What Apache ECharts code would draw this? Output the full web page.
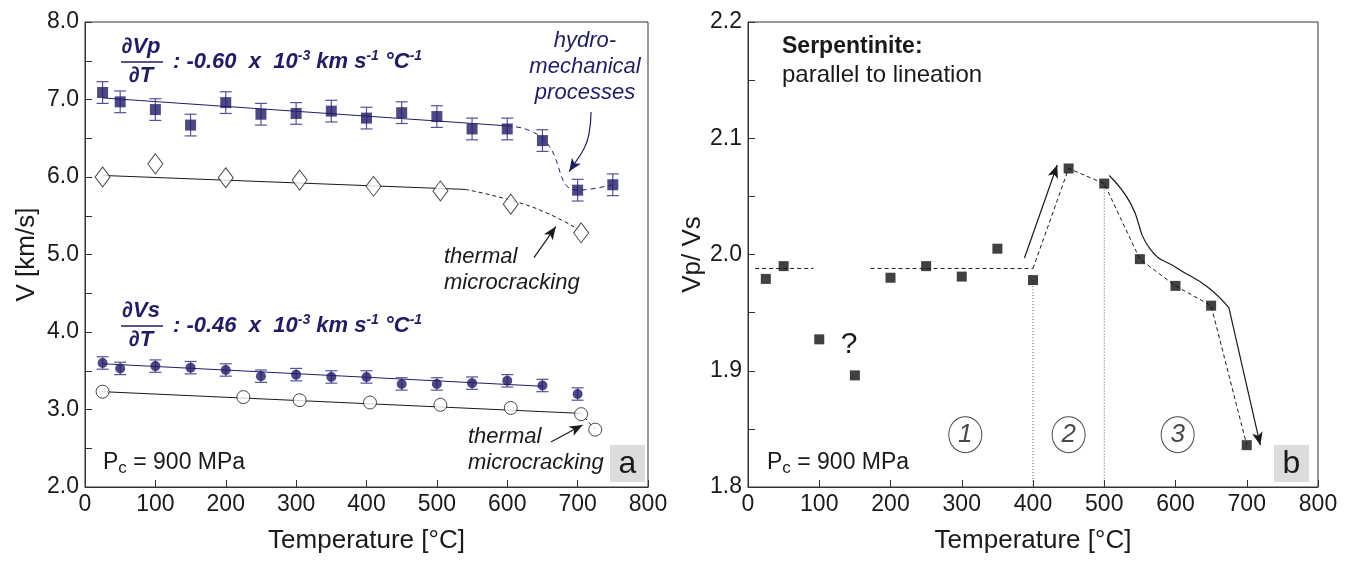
<!DOCTYPE html>
<html>
<head>
<meta charset="utf-8">
<script src="https://cdn.jsdelivr.net/npm/echarts@6/dist/echarts.min.js"></script>
<style>
  html, body { margin: 0; padding: 0; background: #fff; }
  #chart { width: 1347px; height: 561px; }
</style>
</head>
<body>
<div id="chart"></div>
<script>
// panel a: velocities vs temperature
const tempVp = [25, 50, 100, 150, 200, 250, 300, 350, 400, 450, 500, 550, 600, 650, 700, 750];
const vpFilled = [7.09, 6.97, 6.87, 6.67, 6.96, 6.81, 6.82, 6.85, 6.76, 6.83, 6.78, 6.62, 6.62, 6.47, 5.83, 5.90];
const vpErr = 0.14;
const tempVpOpen = [25, 100, 200, 305, 410, 505, 605, 705];
const vpOpen = [6.00, 6.17, 5.99, 5.96, 5.88, 5.82, 5.65, 5.28];
const tempVs = [25, 50, 100, 150, 200, 250, 300, 350, 400, 450, 500, 550, 600, 650, 700];
const vsFilled = [3.60, 3.53, 3.56, 3.54, 3.51, 3.43, 3.45, 3.42, 3.42, 3.33, 3.33, 3.34, 3.37, 3.31, 3.20];
const vsErr = 0.08;
const tempVsOpen = [25, 225, 305, 405, 505, 605, 705, 725];
const vsOpen = [3.23, 3.16, 3.12, 3.09, 3.06, 3.02, 2.94, 2.74];

// fitted trends and guide curves (temperature, value)
const vpFit = [[25, 7.02], [600, 6.66]];
const vpTail = [[600, 6.66], [650, 6.50], [700, 5.83], [750, 5.90]];
const vpOpenFit = [[25, 6.02], [540, 5.84]];
const vpOpenTail = [[540, 5.84], [605, 5.70], [660, 5.52], [705, 5.30]];
const vsFit = [[25, 3.59], [650, 3.30]];
const vsOpenFit = [[25, 3.23], [705, 2.95]];
const vsOpenTail = [[705, 2.95], [725, 2.74]];
const hydroArrow = [[719, 6.84], [716, 6.55], [705, 6.30], [688, 6.07]];
const thermalArrow1 = [[638, 4.96], [669, 5.36]];
const thermalArrow2 = [[662, 2.58], [707, 2.80]];

// panel b: Vp/Vs ratio
const tempRatio = [25, 50, 100, 150, 200, 250, 300, 350, 400, 450, 500, 550, 600, 650, 700];
const vpvs = [1.979, 1.990, 1.927, 1.896, 1.980, 1.990, 1.981, 2.005, 1.978, 2.074, 2.061, 1.996, 1.973, 1.956, 1.836];
const plateau1 = [[10, 1.988], [92, 1.988]];
const plateau2 = [[172, 1.988], [400, 1.988]];
const ratioPath = [[400, 1.988], [450, 2.074], [500, 2.061], [550, 1.996], [600, 1.973], [650, 1.956], [700, 1.836]];
const divider400 = [[400, 1.978], [400, 1.8]];
const divider500 = [[500, 2.061], [500, 1.8]];
const stage2Arrow = [[388, 1.997], [434, 2.077]];
const stage3Curve = [[507, 2.068], [537, 2.044], [564, 2.005], [603, 1.988], [645, 1.972], [675, 1.954], [719, 1.836]];
const stageMarks = [[305, 1.845, '1'], [450, 1.845, '2'], [603, 1.845, '3']];

const NAVY = '#211c68';
const NAVY_LIGHT = '#55529a';
const INK = '#1a1a1a';
const FONT = '"Liberation Sans Narrow", "Liberation Sans", Arial, sans-serif';
const FONT_W = '"Liberation Sans", Arial, sans-serif';

const chart = echarts.init(document.getElementById('chart'));

const zip = (xs, ys) => xs.map((x, i) => [x, ys[i]]);

const lineSeries = (idx, data, color, type, smooth) => ({
  type: 'line', xAxisIndex: idx, yAxisIndex: idx, data: data,
  symbol: 'none', smooth: smooth || false, silent: true, z: 2,
  lineStyle: { color: color, width: 1, type: type || 'solid' }
});

// curve whose last segment carries an arrowhead
const arrowSeries = (idx, pts, color) => ({
  type: 'line', xAxisIndex: idx, yAxisIndex: idx, data: pts.slice(0, -1),
  symbol: 'none', smooth: true, silent: true, z: 3,
  lineStyle: { color: color, width: 1.2 },
  markLine: {
    silent: true, symbol: ['none', 'arrow'], symbolSize: [8, 13],
    label: { show: false },
    lineStyle: { color: color, width: 1.2, type: 'solid' },
    data: [[{ coord: pts[pts.length - 2] }, { coord: pts[pts.length - 1] }]]
  }
});

const errorBars = (xs, ys, err) => ({
  type: 'custom', xAxisIndex: 0, yAxisIndex: 0, silent: true, z: 3,
  data: xs.map((x, i) => [x, ys[i], err]),
  renderItem: (params, api) => {
    const x = api.value(0), y = api.value(1), e = api.value(2);
    const top = api.coord([x, y + e]);
    const bot = api.coord([x, y - e]);
    const w = 6;
    const st = { stroke: NAVY_LIGHT, lineWidth: 1.2 };
    return {
      type: 'group', children: [
        { type: 'line', shape: { x1: top[0], y1: top[1], x2: bot[0], y2: bot[1] }, style: st },
        { type: 'line', shape: { x1: top[0] - w, y1: top[1], x2: top[0] + w, y2: top[1] }, style: st },
        { type: 'line', shape: { x1: bot[0] - w, y1: bot[1], x2: bot[0] + w, y2: bot[1] }, style: st }
      ]
    };
  }
});

const xAxisBase = (idx) => ({
  type: 'value', gridIndex: idx, min: 0, max: 800, interval: 100,
  name: 'Temperature [°C]', nameLocation: 'middle', nameGap: 41,
  nameTextStyle: { fontFamily: FONT, fontSize: 26, color: INK },
  axisLine: { lineStyle: { color: '#333', width: 1 } },
  axisTick: { inside: true, length: 7, lineStyle: { color: '#333' } },
  axisLabel: { fontFamily: FONT, fontSize: 23, color: INK, margin: 6 },
  splitLine: { show: false }
});

const yLabel = (step) => (v) => {
  const t = v / step;
  return Math.abs(t - Math.round(t)) < 1e-6 ? v.toFixed(1) : '';
};

const supText = () => ({
  a: { fontFamily: FONT_W, fontSize: 22, fontWeight: 'bold', fontStyle: 'italic', fill: NAVY, lineHeight: 26 },
  s: { fontFamily: FONT_W, fontSize: 14, fontWeight: 'bold', fontStyle: 'italic', fill: NAVY, lineHeight: 14, verticalAlign: 'top' }
});

const formula = (top, numer, rest) => [
  { type: 'text', x: 141, y: top, style: { text: numer, font: 'italic bold 22px ' + FONT_W, fill: NAVY, align: 'center', verticalAlign: 'middle' } },
  { type: 'line', shape: { x1: 121, y1: top + 15, x2: 163, y2: top + 15 }, style: { stroke: NAVY, lineWidth: 1.5 } },
  { type: 'text', x: 141, y: top + 29, style: { text: '∂T', font: 'italic bold 22px ' + FONT_W, fill: NAVY, align: 'center', verticalAlign: 'middle' } },
  { type: 'text', x: 173, y: top + 15, style: { text: rest, rich: supText(), fill: NAVY, align: 'left', verticalAlign: 'middle' } }
];

const pressure = (x, y) => ({
  type: 'text', x: x, y: y,
  style: {
    text: '{n|P}{c|c}{n| = 900 MPa}', align: 'left', verticalAlign: 'middle',
    rich: {
      n: { fontFamily: FONT, fontSize: 23, fill: INK, lineHeight: 28 },
      c: { fontFamily: FONT, fontSize: 17, fill: INK, lineHeight: 8, verticalAlign: 'bottom' }
    }
  }
});

const panelTag = (x, y, t) => ({
  type: 'group', children: [
    { type: 'rect', shape: { x: x, y: y, width: 35, height: 37 }, style: { fill: '#dcdcdc' } },
    { type: 'text', x: x + 17.5, y: y + 19, style: { text: t, font: '32px ' + FONT, fill: INK, align: 'center', verticalAlign: 'middle' } }
  ]
});

const option = {
  animation: false,
  backgroundColor: '#fff',
  grid: [
    { left: 85, right: 699, top: 22, bottom: 74, show: true, borderColor: '#333', borderWidth: 1 },
    { left: 748, right: 29, top: 22, bottom: 74, show: true, borderColor: '#333', borderWidth: 1 }
  ],
  xAxis: [xAxisBase(0), xAxisBase(1)],
  yAxis: [
    {
      type: 'value', gridIndex: 0, min: 2, max: 8, interval: 0.5,
      name: 'V [km/s]', nameLocation: 'middle', nameGap: 45,
      nameTextStyle: { fontFamily: FONT, fontSize: 26, color: INK },
      axisLine: { lineStyle: { color: '#333' } },
      axisTick: { inside: true, length: 7, lineStyle: { color: '#333' } },
      axisLabel: { fontFamily: FONT, fontSize: 23, color: INK, margin: 6, formatter: yLabel(1) },
      splitLine: { show: false }
    },
    {
      type: 'value', gridIndex: 1, min: 1.8, max: 2.2, interval: 0.05,
      name: 'Vp/ Vs', nameLocation: 'middle', nameGap: 40,
      nameTextStyle: { fontFamily: FONT, fontSize: 26, color: INK },
      axisLine: { lineStyle: { color: '#333' } },
      axisTick: { inside: true, length: 7, lineStyle: { color: '#333' } },
      axisLabel: { fontFamily: FONT, fontSize: 23, color: INK, margin: 6, formatter: yLabel(0.1) },
      splitLine: { show: false }
    }
  ],
  series: [
    // panel a trend lines
    lineSeries(0, vpFit, NAVY),
    lineSeries(0, vpTail, NAVY, [5, 4], true),
    lineSeries(0, vpOpenFit, INK),
    lineSeries(0, vpOpenTail, INK, [4, 3], true),
    lineSeries(0, vsFit, NAVY),
    lineSeries(0, vsOpenFit, INK),
    lineSeries(0, vsOpenTail, INK, [3, 3]),
    arrowSeries(0, hydroArrow, NAVY),
    arrowSeries(0, thermalArrow1, INK),
    arrowSeries(0, thermalArrow2, INK),
    errorBars(tempVp, vpFilled, vpErr),
    errorBars(tempVs, vsFilled, vsErr),
    {
      type: 'scatter', xAxisIndex: 0, yAxisIndex: 0, data: zip(tempVp, vpFilled),
      symbol: 'rect', symbolSize: 11, z: 4, itemStyle: { color: NAVY }
    },
    {
      type: 'scatter', xAxisIndex: 0, yAxisIndex: 0, data: zip(tempVpOpen, vpOpen),
      symbol: 'diamond', symbolSize: [15, 20], z: 4,
      itemStyle: { color: '#fff', borderColor: INK, borderWidth: 1 }
    },
    {
      type: 'scatter', xAxisIndex: 0, yAxisIndex: 0, data: zip(tempVs, vsFilled),
      symbol: 'circle', symbolSize: 10, z: 4, itemStyle: { color: NAVY }
    },
    {
      type: 'scatter', xAxisIndex: 0, yAxisIndex: 0, data: zip(tempVsOpen, vsOpen),
      symbol: 'circle', symbolSize: 13, z: 4,
      itemStyle: { color: '#fff', borderColor: INK, borderWidth: 1 }
    },
    // panel b
    lineSeries(1, plateau1, INK, [4, 3]),
    lineSeries(1, plateau2, INK, [4, 3]),
    lineSeries(1, ratioPath, INK, [4, 3]),
    lineSeries(1, divider400, '#555', [1, 2]),
    lineSeries(1, divider500, '#555', [1, 2]),
    arrowSeries(1, stage2Arrow, INK),
    arrowSeries(1, stage3Curve, INK),
    {
      type: 'scatter', xAxisIndex: 1, yAxisIndex: 1, data: zip(tempRatio, vpvs),
      symbol: 'rect', symbolSize: 10, z: 4, itemStyle: { color: '#111' }
    },
    {
      type: 'scatter', xAxisIndex: 1, yAxisIndex: 1, data: stageMarks,
      symbol: 'circle', symbolSize: [33, 36], z: 4,
      itemStyle: { color: '#fff', borderColor: INK, borderWidth: 1 },
      label: {
        show: true, position: 'inside', formatter: (p) => p.value[2],
        fontFamily: FONT_W, fontStyle: 'italic', fontSize: 26, color: INK
      }
    }
  ],
  graphic: [
    ...formula(47, '∂Vp', '{a|: -0.60  x  10}{s|-3}{a| km s}{s|-1}{a| °C}{s|-1}'),
    ...formula(311, '∂Vs', '{a|: -0.46  x  10}{s|-3}{a| km s}{s|-1}{a| °C}{s|-1}'),
    {
      type: 'text', x: 585, y: 67,
      style: { text: 'hydro-\nmechanical\nprocesses', font: 'italic 22px ' + FONT_W, fill: NAVY, align: 'center', verticalAlign: 'middle', lineHeight: 26 }
    },
    {
      type: 'text', x: 444, y: 270,
      style: { text: 'thermal\nmicrocracking', font: 'italic 22px ' + FONT_W, fill: INK, align: 'left', verticalAlign: 'middle', lineHeight: 26 }
    },
    {
      type: 'text', x: 468, y: 450,
      style: { text: 'thermal\nmicrocracking', font: 'italic 22px ' + FONT_W, fill: INK, align: 'left', verticalAlign: 'middle', lineHeight: 26 }
    },
    pressure(103, 463),
    panelTag(610, 445, 'a'),
    {
      type: 'text', x: 782, y: 47,
      style: { text: 'Serpentinite:', font: 'bold 23px ' + FONT_W, fill: INK, align: 'left', verticalAlign: 'middle' }
    },
    {
      type: 'text', x: 782, y: 75,
      style: { text: 'parallel to lineation', font: '24px ' + FONT, fill: INK, align: 'left', verticalAlign: 'middle' }
    },
    {
      type: 'text', x: 849, y: 345,
      style: { text: '?', font: '30px ' + FONT_W, fill: INK, align: 'center', verticalAlign: 'middle' }
    },
    pressure(767, 463),
    panelTag(1274, 445, 'b')
  ]
};

chart.setOption(option);
window.addEventListener('resize', () => chart.resize());
</script>
</body>
</html>
